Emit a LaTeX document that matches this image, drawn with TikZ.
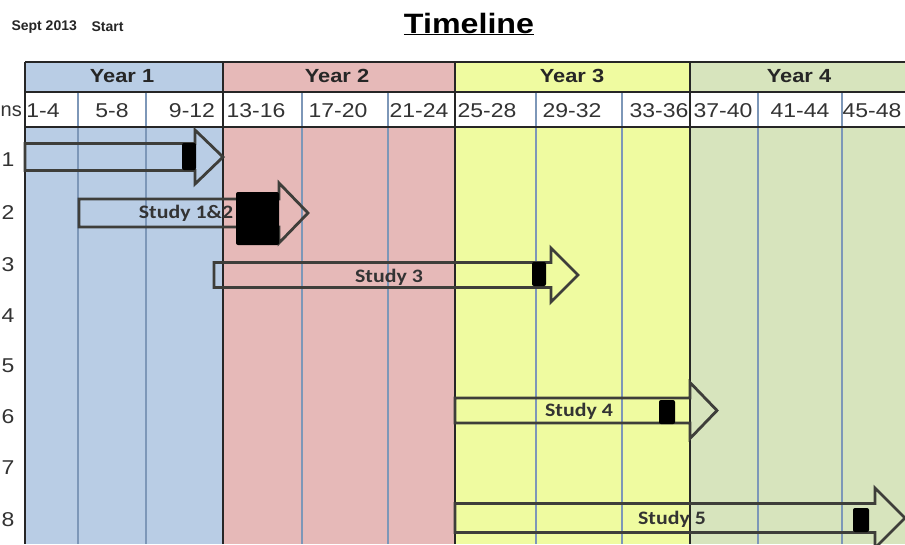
\documentclass[tikz,border=0pt]{standalone}
\usepackage{fontspec}
\setmainfont{Liberation Sans}
\newfontfamily\widefont[FakeStretch=1.15]{Liberation Sans}
\newfontfamily\studyfont[FakeStretch=1.15]{Carlito}
\usepackage{tikz}
\usetikzlibrary{positioning}

\definecolor{yearone}{HTML}{B9CDE5}
\definecolor{yeartwo}{HTML}{E6B9B8}
\definecolor{yearthree}{HTML}{EFFBA0}
\definecolor{yearfour}{HTML}{D7E4BD}
\definecolor{gridblue}{HTML}{7D97B8}
\definecolor{arrowgray}{HTML}{3E3E3A}

% block arrow: x start, body end, tip, y centre, half body, half head
\newcommand{\blockarrow}[6]{%
  \draw[studyarrow] (#1,#4-#5) -- (#2,#4-#5) -- (#2,#4-#6) -- (#3,#4)
    -- (#2,#4+#6) -- (#2,#4+#5) -- (#1,#4+#5) -- cycle;}

\begin{document}
\begin{tikzpicture}[x=1pt, y=-1pt,
  titlelbl/.style={font=\widefont\fontsize{28}{28}\selectfont\bfseries},
  notelbl/.style={font=\fontsize{14}{14}\selectfont\bfseries, text=black!85},
  yearhead/.style={font=\widefont\fontsize{19}{19}\selectfont\bfseries, text=black!85},
  monthlbl/.style={font=\widefont\fontsize{20}{20}\selectfont, text=black!80},
  rowlbl/.style={font=\widefont\fontsize{20}{20}\selectfont, text=black!80},
  studylbl/.style={font=\studyfont\fontsize{19}{19}\selectfont\bfseries, text=black!80, inner sep=0pt},
  yearline/.style={draw=black!85, line width=1.6pt},
  monthline/.style={draw=gridblue, line width=1.2pt},
  studyarrow/.style={draw=arrowgray, line width=2.8pt, line join=miter},
  milestone/.style={fill=black, rounded corners=2pt}
]
  \useasboundingbox[fill=white] (0,0) rectangle (905,544);

  % year bands
  \fill[yearone]   (25,62)  rectangle (223,544);
  \fill[yeartwo]   (223,62) rectangle (455,544);
  \fill[yearthree] (455,62) rectangle (690,544);
  \fill[yearfour]  (690,62) rectangle (905,544);
  \fill[white]     (25,92)  rectangle (905,127);

  % column lines
  \foreach \x in {78,146,302,388,536,622,758,842}
    \draw[monthline] (\x,92) -- (\x,544);
  \foreach \x in {25,223,455,690}
    \draw[yearline] (\x,62) -- (\x,544);
  \foreach \y in {62,92,127}
    \draw[yearline] (25,\y) -- (905,\y);

  % headers
  \node[titlelbl] (title) at (469,24) {\underline{Timeline}};
  \node[notelbl, anchor=west] (sept) at (8,27) {Sept 2013};
  \node[notelbl, anchor=west] (start) at (88,27) {Start};

  \node[yearhead] (y1) at (122,76) {Year 1};
  \node[yearhead] (y2) at (337,76) {Year 2};
  \node[yearhead] (y3) at (572,76) {Year 3};
  \node[yearhead] (y4) at (799,76) {Year 4};

  \foreach \x/\m in {43/1-4, 112/5-8, 192/9-12, 256/13-16, 338/17-20, 419/21-24,
                     487/25-28, 572/29-32, 659/33-36, 723/37-40, 800/41-44, 872/45-48}
    \node[monthlbl] (m\m) at (\x,111) {\m};

  \node[font=\fontsize{20}{20}\selectfont, text=black!80, anchor=west, inner sep=0pt] (rowhead) at (0.5,111) {ns};
  \foreach \r/\y in {1/160, 2/213, 3/265, 4/316, 5/366, 6/417, 7/468, 8/520}
    \node[rowlbl] (row\r) at (8,\y) {\r};

  % studies
  \blockarrow{25}{195}{223}{157}{13.5}{27}
  \fill[milestone] (182,143) rectangle (196,170);

  \blockarrow{79}{279}{308}{213}{14}{30}
  \fill[milestone] (236,192) rectangle (279,245);
  \node[studylbl] (s12) at (186,213) {Study 1\&2};

  \blockarrow{214}{551}{578}{275}{12.5}{27}
  \fill[milestone] (532,262) rectangle (546,286);
  \node[studylbl] (s3) at (389,277) {Study 3};

  \blockarrow{455}{690}{717}{410.5}{12.5}{28}
  \fill[milestone] (659,400) rectangle (675,424);
  \node[studylbl] (s4) at (579,411) {Study 4};

  \blockarrow{455}{875}{905}{518}{14.5}{30}
  \fill[milestone] (853,508) rectangle (869,532);
  \node[studylbl] (s5) at (672,519) {Study 5};
\end{tikzpicture}
\end{document}
